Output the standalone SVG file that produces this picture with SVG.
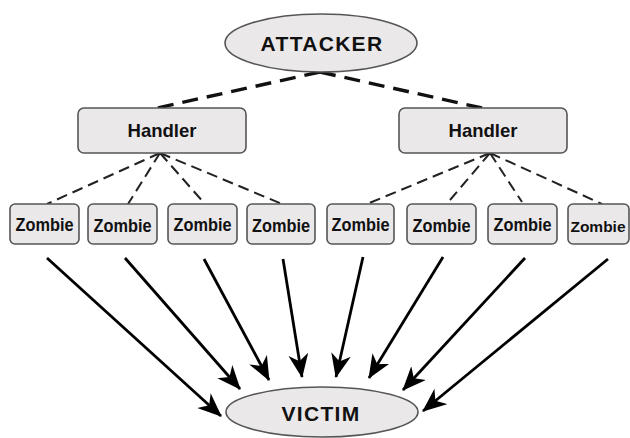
<svg xmlns="http://www.w3.org/2000/svg" width="630" height="438" viewBox="0 0 630 438">
<style>
.node{fill:#ebe8ea;stroke:#555;stroke-width:1.6}
.t{font-family:"Liberation Sans",Arial,sans-serif;font-weight:bold;fill:#111;text-anchor:middle}
.d1{stroke:#111;stroke-width:3.4;stroke-dasharray:16 9;fill:none}
.d2{stroke:#222;stroke-width:2;stroke-dasharray:11 6;fill:none}
.ar{stroke:#000;stroke-width:2.8;fill:none;marker-end:url(#ah)}
</style>
<defs>
<marker id="ah" markerUnits="userSpaceOnUse" markerWidth="26" markerHeight="22" refX="23" refY="10" orient="auto">
<path d="M0,0 L24,10 L0,20 L7,10 Z" fill="#000"/>
</marker>
</defs>
<g id="connectors">
<line class="d1" x1="320" y1="72" x2="157" y2="108"/>
<line class="d1" x1="320" y1="72" x2="482" y2="108"/>
<line class="d2" x1="160" y1="153" x2="47" y2="204"/>
<line class="d2" x1="160" y1="153" x2="128" y2="204"/>
<line class="d2" x1="160" y1="153" x2="205" y2="204"/>
<line class="d2" x1="160" y1="153" x2="282" y2="204"/>
<line class="d2" x1="490" y1="153" x2="367" y2="204"/>
<line class="d2" x1="490" y1="153" x2="450" y2="200"/>
<line class="d2" x1="490" y1="153" x2="522" y2="202"/>
<line class="d2" x1="490" y1="153" x2="602" y2="204"/>
<line class="ar" x1="47" y1="258" x2="221" y2="416"/>
<line class="ar" x1="125" y1="258" x2="240" y2="389"/>
<line class="ar" x1="204" y1="259" x2="269" y2="380"/>
<line class="ar" x1="283" y1="259" x2="302" y2="377"/>
<line class="ar" x1="363" y1="257" x2="336" y2="377"/>
<line class="ar" x1="443" y1="257" x2="369" y2="378"/>
<line class="ar" x1="525" y1="258" x2="403" y2="390"/>
<line class="ar" x1="608" y1="259" x2="423" y2="411"/>
</g>
<g id="attacker"><ellipse class="node" cx="321" cy="43" rx="96" ry="29"/><text class="t" x="322" y="51" font-size="21" letter-spacing="1.3">ATTACKER</text></g>
<g id="handler1"><rect class="node" x="78" y="108" width="168" height="45" rx="6"/><text class="t" x="162" y="137" font-size="19" textLength="69" lengthAdjust="spacingAndGlyphs">Handler</text></g>
<g id="handler2"><rect class="node" x="399" y="108" width="168" height="45" rx="6"/><text class="t" x="483" y="137" font-size="19" textLength="69" lengthAdjust="spacingAndGlyphs">Handler</text></g>
<g id="zombie1"><rect class="node" x="10" y="204" width="69" height="40" rx="5"/><text class="t" x="44.5" y="231" font-size="18.5" textLength="58" lengthAdjust="spacingAndGlyphs">Zombie</text></g>
<g id="zombie2"><rect class="node" x="88" y="204" width="69" height="40" rx="5"/><text class="t" x="122.5" y="232" font-size="18.5" textLength="58" lengthAdjust="spacingAndGlyphs">Zombie</text></g>
<g id="zombie3"><rect class="node" x="168" y="204" width="69" height="40" rx="5"/><text class="t" x="202.5" y="231" font-size="18.5" textLength="58" lengthAdjust="spacingAndGlyphs">Zombie</text></g>
<g id="zombie4"><rect class="node" x="247" y="204" width="68" height="40" rx="5"/><text class="t" x="281" y="232" font-size="18.5" textLength="58" lengthAdjust="spacingAndGlyphs">Zombie</text></g>
<g id="zombie5"><rect class="node" x="327" y="204" width="67" height="40" rx="5"/><text class="t" x="360.5" y="231" font-size="18.5" textLength="58" lengthAdjust="spacingAndGlyphs">Zombie</text></g>
<g id="zombie6"><rect class="node" x="407" y="204" width="69" height="40" rx="5"/><text class="t" x="441.5" y="232" font-size="18.5" textLength="58" lengthAdjust="spacingAndGlyphs">Zombie</text></g>
<g id="zombie7"><rect class="node" x="488" y="204" width="69" height="40" rx="5"/><text class="t" x="522.5" y="231" font-size="18.5" textLength="58" lengthAdjust="spacingAndGlyphs">Zombie</text></g>
<g id="zombie8"><rect class="node" x="568" y="204" width="61" height="40" rx="5"/><text class="t" x="598" y="232" font-size="15.5">Zombie</text></g>
<g id="victim"><ellipse class="node" cx="322" cy="412" rx="96" ry="25"/><text class="t" x="321" y="421" font-size="21" letter-spacing="1.3">VICTIM</text></g>
</svg>
